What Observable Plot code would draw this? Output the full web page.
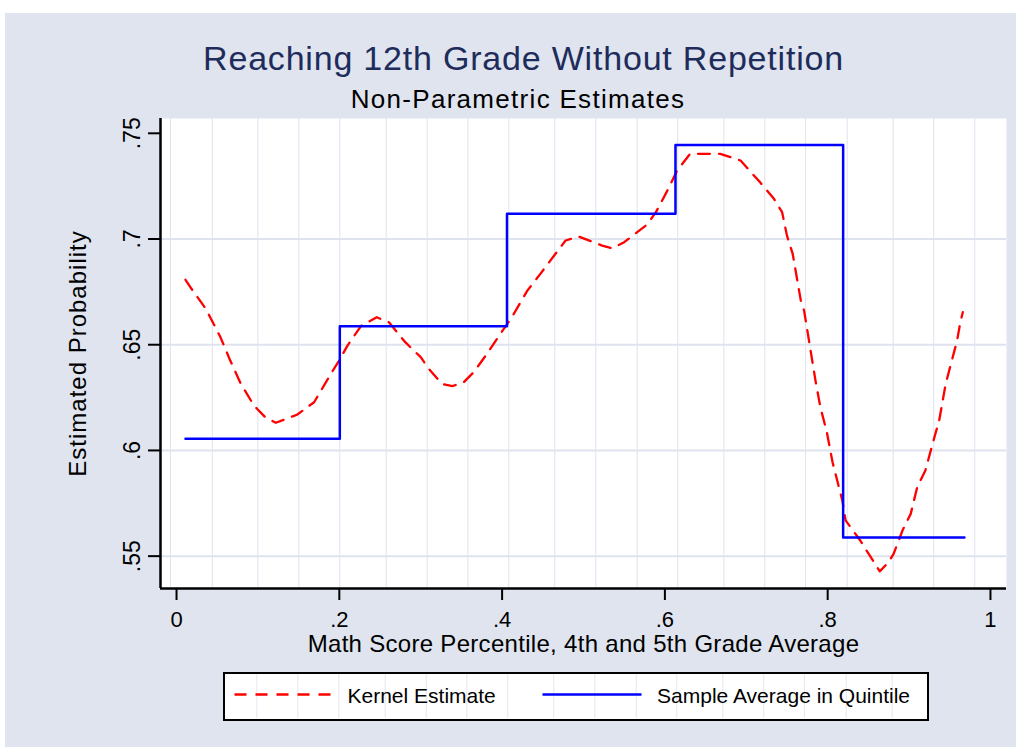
<!DOCTYPE html>
<html><head><meta charset="utf-8">
<script src="https://cdn.jsdelivr.net/npm/d3@7"></script>
<script src="https://cdn.jsdelivr.net/npm/@observablehq/plot@0.6"></script>
<style>
html,body{margin:0;padding:0;background:#fff;}
body{width:1018px;height:747px;position:relative;overflow:hidden;font-family:"Liberation Sans",Arial,sans-serif;}
#bg{position:absolute;left:5px;top:13px;width:1011px;height:734px;background:#dfe4ee;}
#title{position:absolute;left:0;width:1047px;top:41px;text-align:center;font-size:34px;line-height:34px;letter-spacing:0.8px;color:#1e2c5c;white-space:nowrap;}
#subtitle{position:absolute;left:0;width:1036px;top:86px;text-align:center;font-size:26px;line-height:26px;letter-spacing:1.3px;color:#000;white-space:nowrap;}
#chart{position:absolute;left:0;top:105px;}
#legend{position:absolute;left:223px;top:672px;width:706px;height:49px;box-sizing:border-box;border:2.5px solid #000;background:#fff;}
#legend svg{display:block;}
</style>
</head><body>
<div id="bg"></div>
<div id="title">Reaching 12th Grade Without Repetition</div>
<div id="subtitle">Non-Parametric Estimates</div>
<div id="chart"></div>
<div id="legend"></div>
<script>
const xTicks = [0, 0.2, 0.4, 0.6, 0.8, 1];
const xTickLabels = ["0", ".2", ".4", ".6", ".8", "1"];
const yTicks = [0.55, 0.6, 0.65, 0.7, 0.75];
const yTickLabels = [".55", ".6", ".65", ".7", ".75"];
const yGrid = [0.55, 0.6, 0.65, 0.7];
const vGrid = [-0.0074, 0.0439, 0.0999, 0.1502, 0.2006, 0.2576, 0.3080, 0.3579, 0.4082, 0.4647,
               0.5151, 0.5660, 0.6158, 0.6724, 0.7227, 0.7727, 0.8240, 0.8805, 0.9303, 0.9807];

const kernelX = [0.011,0.017,0.036,0.054,0.066,0.079,0.095,0.109,0.122,0.132,
                 0.148,0.169,0.189,0.201,0.210,0.227,0.246,0.261,0.281,0.300,
                 0.310,0.326,0.339,0.353,0.365,0.380,0.398,0.412,0.431,0.447,
                 0.464,0.478,0.494,0.523,0.535,0.550,0.578,0.589,0.603,0.615,
                 0.631,0.668,0.693,0.717,0.734,0.744,0.750,0.757,0.767,0.771,
                 0.785,0.791,0.799,0.806,0.818,0.822,0.840,0.864,0.875,0.881,
                 0.892,0.902,0.910,0.920,0.930,0.937,0.945,0.959,0.963,0.966];
const kernelY = [0.6807,0.6772,0.6670,0.6535,0.6425,0.6315,0.6213,0.6157,0.6131,0.6145,
                 0.6169,0.6228,0.6358,0.6433,0.6496,0.6590,0.6630,0.6606,0.6512,0.6441,
                 0.6386,0.6315,0.6304,0.6323,0.6370,0.6449,0.6552,0.6630,0.6756,0.6835,
                 0.6922,0.6993,0.7012,0.6969,0.6956,0.6985,0.7068,0.7127,0.7229,0.7324,
                 0.7403,0.7403,0.7371,0.7268,0.7190,0.7127,0.7016,0.6930,0.6709,0.6662,
                 0.6331,0.6205,0.6086,0.5944,0.5763,0.5669,0.5574,0.5428,0.5472,0.5511,
                 0.5622,0.5700,0.5826,0.5905,0.6047,0.6142,0.6315,0.6520,0.6606,0.6654];

const quintileEdges = [0.011, 0.2006, 0.406, 0.613, 0.819, 0.968];
const quintileMeans = [0.6055, 0.6587, 0.7119, 0.7445, 0.5588];

const seriesNames = ["Kernel Estimate", "Sample Average in Quintile"];
const xLabel = "Math Score Percentile, 4th and 5th Grade Average";
const yLabel = "Estimated Probability";

const kernel = kernelX.map((x, i) => ({x, y: kernelY[i]}));
const steps = quintileEdges.map((x, i) => ({x, y: quintileMeans[Math.min(i, quintileMeans.length - 1)]}));

const xDomain = [-0.0197, 1.0197];
const yDomain = [0.5347, 0.757];
const dash = "12,9";
const font = '"Liberation Sans", Arial, sans-serif';

const chart = Plot.plot({
  width: 1018, height: 555,
  marginLeft: 160, marginRight: 12, marginTop: 13, marginBottom: 72,
  style: {background: "transparent", fontFamily: font, color: "#000", overflow: "visible"},
  x: {domain: xDomain},
  y: {domain: yDomain},
  marks: [
    Plot.frame({fill: "#fff", stroke: null}),
    Plot.ruleX(vGrid, {stroke: "#dfe3ee", strokeWidth: 1}),
    Plot.ruleY(yGrid, {stroke: "#dfe3ee", strokeWidth: 2}),
    Plot.ruleY([yDomain[0]], {stroke: "#000", strokeWidth: 2.5}),
    Plot.ruleX([xDomain[0]], {stroke: "#000", strokeWidth: 2.5}),
    Plot.axisX(xTicks, {tickSize: 12, tickPadding: 11, strokeWidth: 2, fontSize: 22,
      tickFormat: d => xTickLabels[xTicks.indexOf(d)], label: null}),
    Plot.axisY(yTicks, {tickSize: 12, strokeWidth: 2, tickFormat: () => "", label: null}),
    Plot.text(yTicks, {y: d => d, text: (d, i) => yTickLabels[i], frameAnchor: "left", rotate: -90,
      dx: -21, lineAnchor: "bottom", textAnchor: "middle", fontSize: 23, fill: "#000"}),
    Plot.text([xLabel], {text: d => d, frameAnchor: "bottom", dy: 56, lineAnchor: "middle", textAnchor: "middle", fontSize: 24, fill: "#000"}),
    Plot.text([yLabel], {text: d => d, frameAnchor: "left", rotate: -90, dx: -82, lineAnchor: "middle", textAnchor: "middle", fontSize: 24, fill: "#000"}),
    Plot.line(kernel, {x: "x", y: "y", stroke: "#ff0000", strokeWidth: 2.3, strokeDasharray: dash}),
    Plot.line(steps, {x: "x", y: "y", curve: "step-after", stroke: "#0000ff", strokeWidth: 2.5})
  ]
});
document.getElementById("chart").appendChild(chart);

d3.select(chart).selectAll("text").filter(function() { return this.textContent === xLabel; })
  .style("letter-spacing", "0.3px");
d3.select(chart).selectAll("text").filter(function() { return this.textContent === yLabel; })
  .style("letter-spacing", "1px");

// Legend
const ox = 225.5, oy = 674.5;
const xs = chart.scale("x");
const lg = d3.select("#legend").append("svg").attr("width", 701).attr("height", 44);
vGrid.forEach(v => {
  const px = xs.apply(v) - ox;
  if (px > 0 && px < 701) {
    lg.append("line").attr("x1", px).attr("x2", px).attr("y1", 0).attr("y2", 44)
      .attr("stroke", "#e3e7f0").attr("stroke-width", 1);
  }
});
lg.append("line").attr("x1", 235 - ox).attr("x2", 333 - ox).attr("y1", 695 - oy).attr("y2", 695 - oy)
  .attr("stroke", "#ff0000").attr("stroke-width", 2.3).attr("stroke-dasharray", dash);
lg.append("text").attr("x", 348 - ox).attr("y", 703 - oy).attr("font-size", 21)
  .attr("font-family", font).attr("fill", "#000").text(seriesNames[0]);
lg.append("line").attr("x1", 543 - ox).attr("x2", 642 - ox).attr("y1", 695 - oy).attr("y2", 695 - oy)
  .attr("stroke", "#0000ff").attr("stroke-width", 2.5);
lg.append("text").attr("x", 657.6 - ox).attr("y", 703 - oy).attr("font-size", 21)
  .attr("font-family", font).attr("fill", "#000").text(seriesNames[1]);
</script>
</body></html>
